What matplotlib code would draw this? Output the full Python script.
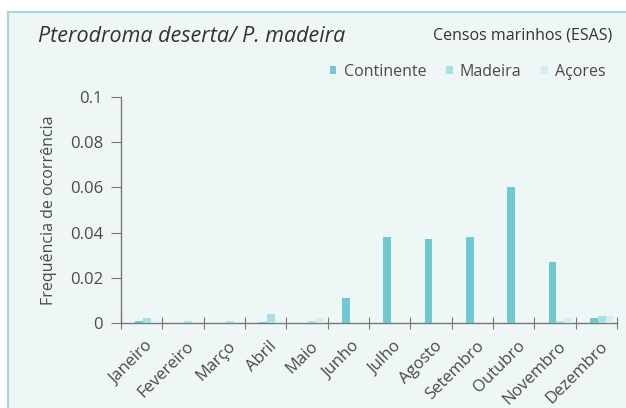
import numpy as np
import matplotlib.pyplot as plt
from matplotlib.patches import Rectangle
from matplotlib.lines import Line2D

plt.rcParams['font.family'] = ['Open Sans', 'DejaVu Sans']

meses = ['Janeiro', 'Fevereiro', 'Março', 'Abril', 'Maio', 'Junho',
         'Julho', 'Agosto', 'Setembro', 'Outubro', 'Novembro', 'Dezembro']
continente = [0.001, 0.0, 0.0, 0.0005, 0.0, 0.011, 0.038, 0.037, 0.038, 0.060, 0.027, 0.002]
madeira = [0.002, 0.001, 0.001, 0.004, 0.001, 0.0, 0.0, 0.0, 0.0, 0.0, 0.001, 0.003]
acores = [0.001, 0.0, 0.0, 0.001, 0.002, 0.001, 0.0, 0.0, 0.0, 0.0, 0.002, 0.003]
y_ticks = [0, 0.02, 0.04, 0.06, 0.08, 0.1]
y_labels = ['0', '0.02', '0.04', '0.06', '0.08', '0.1']

c_cont = '#72c8cf'
c_mad = '#a9dfe3'
c_aco = '#d3eff1'
fundo = '#eef6f6'
texto = '#4a4a4a'

fig = plt.figure(figsize=(6.26, 4.08), dpi=100)
fig.patch.set_facecolor('white')

# panel with teal border on top and left
fig.add_artist(Rectangle((8 / 626, 0), 1, 1 - 12 / 408, transform=fig.transFigure,
                         facecolor=fundo, edgecolor='none', zorder=0))
fig.add_artist(Line2D([8 / 626, 8 / 626], [0, 1 - 12 / 408], transform=fig.transFigure,
                      color='#9fdcdc', lw=1.6))
fig.add_artist(Line2D([8 / 626, 1], [1 - 12 / 408, 1 - 12 / 408], transform=fig.transFigure,
                      color='#9fdcdc', lw=1.6))

ax = fig.add_axes([121 / 626, 85 / 408, 496 / 626, 226 / 408])
ax.set_facecolor('none')

x = np.arange(len(meses)) + 0.5
w = 0.19
ax.bar(x - 0.06, continente, w, color=c_cont, label='Continente', zorder=3)
ax.bar(x + 0.13, madeira, w, color=c_mad, label='Madeira', zorder=3)
ax.bar(x + 0.32, acores, w, color=c_aco, label='Açores', zorder=3)

ax.set_xlim(0, len(meses))
ax.set_ylim(0, 0.1)
ax.set_yticks(y_ticks)
ax.set_yticklabels(y_labels, fontsize=12, color=texto)
ax.set_xticks(np.arange(len(meses) + 1))
ax.set_xticklabels([])
ax.set_xticks(x + 0.08, minor=True)
ax.set_xticklabels(meses, minor=True, rotation=45, ha='right', va='top',
                   rotation_mode='anchor', fontsize=12, color=texto)
ax.tick_params(axis='x', which='minor', length=0, pad=11)
ax.tick_params(axis='x', which='major', direction='inout', length=8, color='#777777')
ax.tick_params(axis='y', direction='out', length=7, color='#777777', pad=6)

for s in ['top', 'right']:
    ax.spines[s].set_visible(False)
for s in ['left', 'bottom']:
    ax.spines[s].set_color('#777777')
    ax.spines[s].set_linewidth(1)

ax.set_ylabel('Frequência de ocorrência', fontsize=11.5, color=texto, labelpad=9)

fig.text(38 / 626, 1 - 36 / 408, 'Pterodroma deserta/ P. madeira', style='italic',
         fontsize=15.5, color='#333333', va='center', ha='left')
fig.text(612 / 626, 1 - 36 / 408, 'Censos marinhos (ESAS)', fontsize=11.5,
         color='#333333', va='center', ha='right')

leg = fig.legend(loc='center right', bbox_to_anchor=(620 / 626, 1 - 72 / 408), ncol=3,
                 frameon=False, fontsize=11.5, handlelength=0.4, handleheight=0.4,
                 handletextpad=0.45, columnspacing=1.25, labelcolor=texto)

fig.savefig('out.png', dpi=100)
